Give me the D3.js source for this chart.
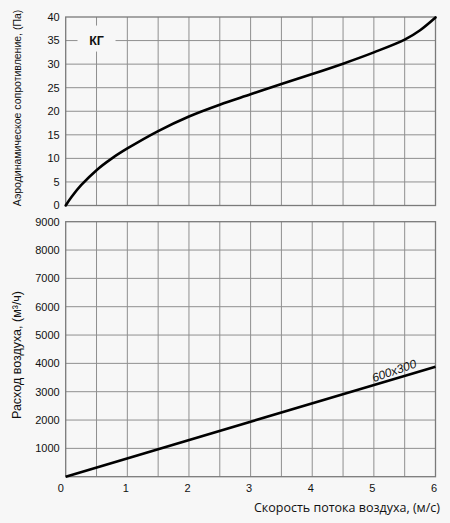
<!DOCTYPE html>
<html>
<head>
<meta charset="utf-8">
<script src="https://cdn.jsdelivr.net/npm/d3@7"></script>
<style>
  html, body { margin: 0; padding: 0; background: #f7f7f7; }
  svg { display: block; }
  .ar { font-family: "Liberation Sans", Arial, Helvetica, sans-serif; }
  .os { font-family: "Open Sans", sans-serif; }
</style>
</head>
<body>
<svg id="chart" width="450" height="523"></svg>
<script>
// ---- data ----
const velocityTicks = [0, 1, 2, 3, 4, 5, 6];
const pressureTicks = [0, 5, 10, 15, 20, 25, 30, 35, 40];
const flowTicks = [1000, 2000, 3000, 4000, 5000, 6000, 7000, 8000, 9000];
const pressureVelocity = [0, 0.1, 0.25, 0.5, 0.75, 1, 1.5, 2, 2.5, 3, 3.5, 4, 4.5, 5, 5.5, 5.75, 6];
const pressureValues   = [0, 1.9, 4.3, 7.5, 10.0, 12.1, 15.8, 18.9, 21.4, 23.6, 25.8, 27.9, 30.1, 32.5, 35.2, 37.2, 39.9];
const flowVelocity = [0, 6];
const flowValues   = [0, 3880];
const seriesLabel = "600x300";
const panelLabel = "КГ";
const xTitle = "Скорость потока воздуха, (м/с)";
const yTitleTop = "Аэродинамическое сопротивление, (Па)";
const yTitleBottom = "Расход воздуха, (м³/ч)";

// ---- layout ----
const svg = d3.select("#chart");
const left = 65.7, right = 435.5;
const top1 = 17, bot1 = 205.5;
const top2 = 221.7, bot2 = 476.7;
const gridColor = "#8f8f8f";
const borderColor = "#7a7a7a";

const x = d3.scaleLinear().domain([0, 6]).range([left, right]);
const y1 = d3.scaleLinear().domain([0, 40]).range([bot1, top1]);
const y2 = d3.scaleLinear().domain([0, 9000]).range([bot2, top2]);

const halfTicks = d3.range(0.5, 6, 0.5);

function panel(yScale, yTicks, gTop, gBot) {
  const g = svg.append("g");
  g.selectAll("line.vg").data(halfTicks).enter().append("line")
    .attr("x1", d => x(d)).attr("x2", d => x(d))
    .attr("y1", gTop).attr("y2", gBot)
    .attr("stroke", gridColor).attr("stroke-width", 1);
  g.selectAll("line.hg").data(yTicks.filter(d => d !== yScale.domain()[0] && d !== yScale.domain()[1])).enter().append("line")
    .attr("x1", left).attr("x2", right)
    .attr("y1", d => yScale(d)).attr("y2", d => yScale(d))
    .attr("stroke", gridColor).attr("stroke-width", 1);
  g.append("rect").attr("x", left).attr("y", gTop)
    .attr("width", right - left).attr("height", gBot - gTop)
    .attr("fill", "none").attr("stroke", borderColor).attr("stroke-width", 1.3);
  g.selectAll("text.yl").data(yTicks).enter().append("text")
    .attr("class", "ar")
    .attr("x", left - 6).attr("y", d => yScale(d))
    .attr("dy", "0.35em").attr("text-anchor", "end")
    .attr("font-size", 11).attr("fill", "#111")
    .text(d => d);
  return g;
}

panel(y1, pressureTicks, top1, bot1);
panel(y2, flowTicks, top2, bot2);

// panel label with background
const lbl = svg.append("g");
lbl.append("rect").attr("x", x(0.5) - 19).attr("y", y1(35) - 15)
  .attr("width", 38).attr("height", 26).attr("fill", "#f7f7f7");
lbl.append("text").attr("class", "ar").attr("x", x(0.5)).attr("y", y1(35) + 4.5)
  .attr("text-anchor", "middle")
  .attr("font-weight", "bold").attr("font-size", 12.5).attr("fill", "#111")
  .text(panelLabel);

// pressure curve
const pData = pressureVelocity.map((v, i) => [v, pressureValues[i]]);
svg.append("path").datum(pData)
  .attr("d", d3.line().x(d => x(d[0])).y(d => y1(d[1])).curve(d3.curveCatmullRom.alpha(0.5)))
  .attr("fill", "none").attr("stroke", "#000").attr("stroke-width", 2.6)
  .attr("stroke-linecap", "round");

// flow line
const fData = flowVelocity.map((v, i) => [v, flowValues[i]]);
svg.append("path").datum(fData)
  .attr("d", d3.line().x(d => x(d[0])).y(d => y2(d[1])))
  .attr("fill", "none").attr("stroke", "#000").attr("stroke-width", 2.6);

// series label
const lx = x(5.35), ly = y2(3880 / 6 * 5.35) - 4;
svg.append("text").attr("class", "ar").attr("transform", `translate(${lx},${ly}) rotate(-19)`)
  .attr("text-anchor", "middle")
  .attr("font-style", "italic").attr("font-size", 12).attr("fill", "#111")
  .text(seriesLabel);

// x tick labels
svg.append("g").selectAll("text").data(velocityTicks).enter().append("text")
  .attr("class", "ar")
  .attr("x", d => x(d) - (d === 0 ? 5 : 1.5)).attr("y", 492)
  .attr("text-anchor", "middle")
  .attr("font-size", 11).attr("fill", "#111")
  .text(d => d);

// x title
svg.append("text").attr("class", "os").attr("x", 440).attr("y", 512)
  .attr("text-anchor", "end")
  .attr("font-size", 12.5).attr("fill", "#111")
  .text(xTitle);

// y titles
svg.append("text").attr("class", "ar").attr("transform", `translate(21,108) rotate(-90)`)
  .attr("text-anchor", "middle")
  .attr("font-size", 10.5).attr("fill", "#111")
  .text(yTitleTop);
svg.append("text").attr("class", "ar").attr("transform", `translate(21,355) rotate(-90)`)
  .attr("text-anchor", "middle")
  .attr("font-size", 12.5).attr("fill", "#111")
  .text(yTitleBottom);
</script>
</body>
</html>
